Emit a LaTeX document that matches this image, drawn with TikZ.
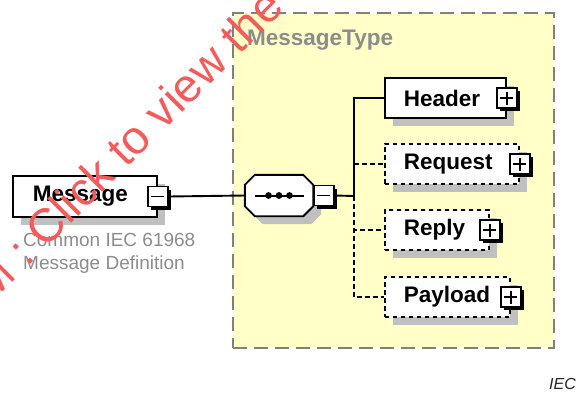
\documentclass[tikz,border=0pt]{standalone}
\usepackage{fontspec}
\setmainfont{Liberation Sans}

\definecolor{typefill}{RGB}{255,255,200}
\definecolor{typeedge}{RGB}{128,128,128}
\definecolor{shade}{RGB}{192,192,192}
\definecolor{labelgray}{RGB}{140,140,140}
\definecolor{stamp}{RGB}{242,92,92}

\begin{document}
\begin{tikzpicture}[x=1pt,y=1pt,
  shadowed/.style={preaction={fill=shade, draw=none, solid,
      transform canvas={xshift=8pt,yshift=-8pt}}},
  elem/.style={shadowed, rectangle, draw=black, line width=1.9pt, fill=white,
      inner xsep=0pt, inner ysep=0pt, minimum height=40.5pt, align=left,
      anchor=west, font=\fontsize{22.5}{26}\selectfont\bfseries},
  optional/.style={dash pattern=on 4.5pt off 3.5pt},
  pmbase/.style={rectangle, draw=black, line width=1.5pt, fill=white,
      minimum size=20pt, inner sep=0pt,
      preaction={fill=black, draw=none, solid,
        transform canvas={xshift=3pt,yshift=-3pt}}},
  plusbox/.style={pmbase, path picture={
      \draw[line width=1.5pt]
        ([xshift=-6.5pt]path picture bounding box.center) --
        ([xshift=6.5pt]path picture bounding box.center)
        ([yshift=-6.5pt]path picture bounding box.center) --
        ([yshift=6.5pt]path picture bounding box.center);}},
  minusbox/.style={pmbase, path picture={
      \draw[line width=1.5pt]
        ([xshift=-6.5pt]path picture bounding box.center) --
        ([xshift=6.5pt]path picture bounding box.center);}},
  conn/.style={draw=black, line width=1.9pt},
  seqbody/.style={shadowed, draw=black, fill=white, line width=1.9pt},
]
\useasboundingbox (0,0) rectangle (576,-392);

% complex type frame
\node[draw=typeedge, fill=typefill, line width=1.9pt,
      dash pattern=on 14pt off 7pt, minimum width=321pt, minimum height=335pt,
      anchor=north west, inner sep=0pt] (mtype) at (232,-12) {};
\node[anchor=west, inner sep=0pt, text=labelgray,
      font=\fontsize{22.5}{26}\selectfont\bfseries] (mtype-name) at (247,-40) {MessageType};

% root element
\node[elem, text width=144pt] (msg) at (12,-196.5) {\hspace*{20pt}Message};
\node[minusbox] (msg-x) at (msg.east) {};
\node[anchor=north west, align=left, inner sep=0pt, text=labelgray,
      font=\fontsize{19}{23}\selectfont] (msg-doc) at (23,-233)
      {Common IEC 61968\\Message Definition};

% sequence compositor
\node[minimum width=68pt, minimum height=41pt, inner sep=0pt] (seq) at (279,-195.5) {};
\path[seqbody]
  ([xshift=10pt]seq.north west) -- ([xshift=-10pt]seq.north east) --
  ([yshift=-10pt]seq.north east) -- ([yshift=10pt]seq.south east) --
  ([xshift=-10pt]seq.south east) -- ([xshift=10pt]seq.south west) --
  ([yshift=10pt]seq.south west) -- ([yshift=-10pt]seq.north west) -- cycle;
\draw[line width=2pt] ([xshift=-24pt]seq.center) -- ([xshift=25pt]seq.center);
\foreach \dx in {-10.5,0,10.5}
  \fill ([xshift=\dx pt]seq.center) circle (3.4pt);
\node[minusbox, anchor=west] (seq-x) at (seq.east) {};

% child elements
\node[elem, text width=121pt] (header) at (384,-98) {\hspace*{19pt}Header};
\node[plusbox] (header-x) at (header.east) {};
\node[elem, optional, text width=134pt] (request) at (384,-164) {\hspace*{19pt}Request};
\node[plusbox] (request-x) at (request.east) {};
\node[elem, optional, text width=104pt] (reply) at (384,-230) {\hspace*{19pt}Reply};
\node[plusbox] (reply-x) at (reply.east) {};
\node[elem, optional, text width=125pt] (payload) at (384,-297) {\hspace*{19pt}Payload};
\node[plusbox] (payload-x) at (payload.east) {};

% connectors
\coordinate (bus) at (354,-196);
\draw[conn] (msg-x.east) -- (seq.west);
\draw[conn] (seq-x.east) -- (bus);
\draw[conn, optional] (bus) |- (request.west);
\draw[conn, optional] (bus) |- (reply.west);
\draw[conn, optional] (bus) |- (payload.west);
\draw[conn] (bus) |- (header.west);

% figure tag
\node[anchor=base east, inner sep=0pt, text=black!85,
      font=\fontsize{16}{16}\selectfont\itshape] (tag) at (576,-389) {IEC};

% stamp across the sheet
\node[rotate=45, anchor=base west, inner sep=0pt, text=stamp,
      font=\fontsize{47}{47}\selectfont] (stampline) at (-10,-305) {M : Click to view the};
\end{tikzpicture}
\end{document}
